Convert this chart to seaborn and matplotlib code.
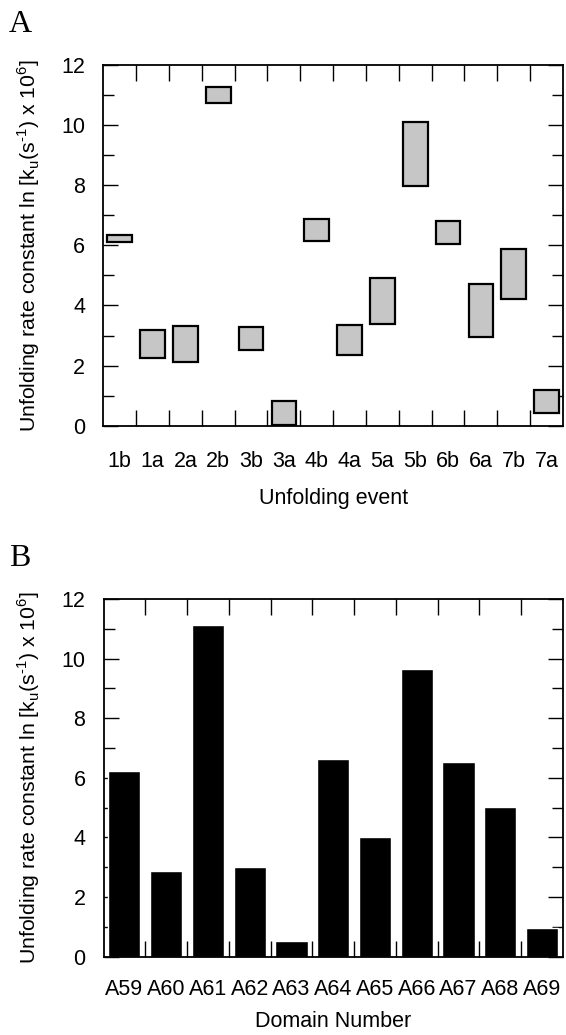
import numpy as np
import pandas as pd
import matplotlib
matplotlib.use('Agg')
import matplotlib.pyplot as plt
import seaborn as sns
from matplotlib.ticker import MultipleLocator, FixedLocator

# Panel A: unfolding events, each shown as a range (low..high)
events = ['1b', '1a', '2a', '2b', '3b', '3a', '4b', '4a', '5a', '5b', '6b', '6a', '7b', '7a']
low = [6.10, 2.24, 2.13, 10.73, 2.51, 0.03, 6.13, 2.35, 3.37, 7.96, 6.05, 2.95, 4.20, 0.42]
high = [6.36, 3.20, 3.31, 11.28, 3.30, 0.81, 6.89, 3.35, 4.93, 10.11, 6.80, 4.70, 5.89, 1.20]

# Panel B: one value per domain
domains = ['A59', 'A60', 'A61', 'A62', 'A63', 'A64', 'A65', 'A66', 'A67', 'A68', 'A69']
rates = [6.24, 2.88, 11.11, 3.02, 0.54, 6.63, 4.01, 9.64, 6.54, 5.02, 0.97]

ylab = 'Unfolding rate constant ln [k$_\\mathregular{u}$(s$^\\text{-1}$) x 10$^\\mathregular{6}$]'

sns.set_theme(style='ticks')
plt.rcParams['font.family'] = ['Liberation Sans', 'DejaVu Sans']
plt.rcParams['mathtext.fontset'] = 'custom'
plt.rcParams['mathtext.rm'] = 'Liberation Sans'
plt.rcParams['text.color'] = 'black'
plt.rcParams['axes.labelcolor'] = 'black'

fig = plt.figure(figsize=(5.66, 10.35), dpi=100)
ax_a = fig.add_axes([0.1825, 0.5887, 0.8122, 0.3485])
ax_b = fig.add_axes([0.1829, 0.0757, 0.8118, 0.3456])

df_a = pd.DataFrame({'event': events, 'low': low, 'high': high})
df_a['span'] = df_a['high'] - df_a['low']
sns.barplot(data=df_a, x='event', y='span', color='#c6c6c6', saturation=1,
            width=0.75, edgecolor='black', linewidth=1.6, ax=ax_a)
# lift each box to start at its lower bound
for patch, lo in zip(ax_a.patches, df_a['low']):
    patch.set_y(lo)

df_b = pd.DataFrame({'domain': domains, 'rate': rates})
sns.barplot(data=df_b, x='domain', y='rate', color='black', saturation=1,
            width=0.77, ax=ax_b)


def style(ax, n, xlabel, xpad, lpad):
    ax.set_xlim(-0.5, n - 0.5)
    ax.set_ylim(0, 12)
    ax.yaxis.set_major_locator(MultipleLocator(2))
    ax.yaxis.set_minor_locator(MultipleLocator(1))
    ax.xaxis.set_minor_locator(FixedLocator(np.arange(0.5, n - 1, 1)))
    ax.tick_params(axis='x', which='major', length=0, pad=xpad, labelsize=15.5,
                   labelcolor='black')
    ax.tick_params(axis='x', which='minor', direction='in', length=11.5,
                   width=1, top=True, bottom=True, color='black')
    ax.tick_params(axis='y', which='major', direction='in', length=11, width=1,
                   left=True, right=True, labelsize=15.5, pad=13,
                   color='black', labelcolor='black')
    ax.tick_params(axis='y', which='minor', direction='in', length=8, width=1,
                   left=True, right=True, color='black')
    for s in ax.spines.values():
        s.set_visible(True)
        s.set_linewidth(1.3)
        s.set_color('black')
    ax.set_xlabel(xlabel, fontsize=15.5, labelpad=lpad)
    ax.set_ylabel(ylab, fontsize=15.3, labelpad=14)


style(ax_a, len(events), 'Unfolding event', 18, 12)
style(ax_b, len(domains), 'Domain Number', 16, 8)

fig.text(0.016, 1 - 25 / 1035, 'A', family='Liberation Serif', fontsize=23, va='center')
fig.text(0.016, 1 - 558 / 1035, 'B', family='Liberation Serif', fontsize=23, va='center')

fig.savefig('out.png', dpi=100)
